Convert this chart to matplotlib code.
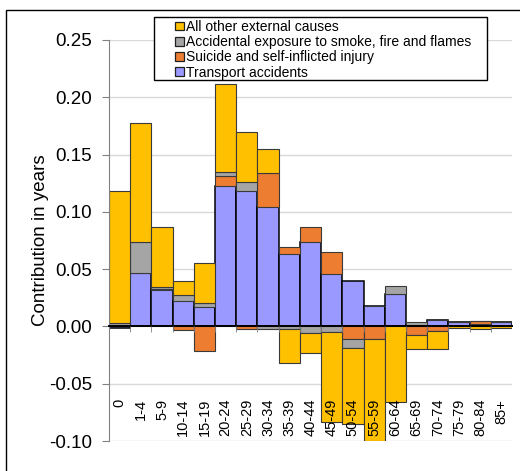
import numpy as np
import matplotlib
matplotlib.use("Agg")
import matplotlib.pyplot as plt
from matplotlib.patches import Rectangle, Patch
from matplotlib.ticker import MultipleLocator

plt.rcParams['font.family'] = ['Liberation Sans', 'DejaVu Sans']

# ---- data ----
ages = ['0', '1-4', '5-9', '10-14', '15-19', '20-24', '25-29', '30-34', '35-39',
        '40-44', '45-49', '50-54', '55-59', '60-64', '65-69', '70-74', '75-79',
        '80-84', '85+']
transport = [-0.001, 0.047, 0.032, 0.022, 0.0166, 0.1225, 0.118, 0.1043, 0.0636,
             0.074, 0.046, 0.0395, 0.0177, 0.0287, 0.0015, 0.006, 0.004, 0.002, 0.0035]
suicide = [0.0, 0.0, 0.001, -0.003, -0.0215, 0.009, -0.002, 0.0297, 0.0058,
           0.0128, 0.0193, -0.0107, -0.0107, 0.0, -0.0078, -0.004, 0.0, 0.0027, 0.0]
smoke = [0.003, 0.0265, 0.0018, 0.005, 0.004, 0.0035, 0.0077, -0.002, -0.002,
         -0.006, -0.005, -0.0083, 0.0, 0.0063, 0.0025, 0.0, 0.0, 0.0, 0.0]
other = [0.115, 0.104, 0.0524, 0.013, 0.0344, 0.0767, 0.0439, 0.0205, -0.0295,
         -0.017, -0.078, -0.0663, -0.0892, -0.0656, -0.0122, -0.016, -0.0015,
         -0.0022, -0.001]

series = [
    ("Transport accidents", transport, "#9999FF", "black", 1.1),
    ("Suicide and self-inflicted injury", suicide, "#ED7D31", "#3a3a3a", 0.8),
    ("Accidental exposure to smoke, fire and flames", smoke, "#A5A5A5", "#3a3a3a", 0.8),
    ("All other external causes", other, "#FFC000", "#3a3a3a", 0.8),
]

# ---- figure ----
fig = plt.figure(figsize=(5.2, 4.71), dpi=100)
ax = fig.add_axes([109 / 520, 1 - 441 / 471, 403 / 520, 401 / 471])

x = np.arange(len(ages))
pos_bottom = np.zeros(len(ages))
neg_bottom = np.zeros(len(ages))
for name, vals, col, ec, lw in series:
    v = np.array(vals)
    bottom = np.where(v >= 0, pos_bottom, neg_bottom)
    ax.bar(x, v, width=1.0, bottom=bottom, color=col, edgecolor=ec,
           linewidth=lw, zorder=2)
    pos_bottom += np.where(v > 0, v, 0)
    neg_bottom += np.where(v < 0, v, 0)

ax.set_xlim(-0.5, len(ages) - 0.5)
ax.set_ylim(-0.10, 0.25)
ax.yaxis.set_major_locator(MultipleLocator(0.05))
ax.yaxis.set_major_formatter(matplotlib.ticker.FormatStrFormatter('%.2f'))
ax.grid(axis='y', color='#d9d9d9', linewidth=1.0, zorder=0)
ax.set_axisbelow(True)
ax.xaxis.set_zorder(4)  # category labels sit on top of the bars

for s in ['top', 'right']:
    ax.spines[s].set_visible(False)
ax.spines['left'].set_color('#808080')
ax.spines['bottom'].set_position(('data', 0))
ax.spines['bottom'].set_color('black')
ax.spines['bottom'].set_linewidth(1.4)
ax.spines['bottom'].set_zorder(3)

ax.tick_params(axis='y', direction='out', length=5, color='#808080',
               labelsize=13.5, pad=7)
ax.set_xticks(x)
ax.set_xticklabels(ages, rotation=90, fontsize=10.5)
ax.tick_params(axis='x', which='major', length=0, pad=52)
ax.set_xticks(x[:-1] + 0.5, minor=True)
ax.tick_params(axis='x', which='minor', direction='out', length=4, color='#808080')
for lab in ax.get_xticklabels():
    lab.set_verticalalignment('top')

ax.set_ylabel("Contribution in years", fontsize=13.5, labelpad=0)

# ---- legend with an outer box ----
handles = [Patch(facecolor=col, edgecolor='#202020', linewidth=0.9, label=name)
           for name, vals, col, ec, lw in series[::-1]]
fig.patches.append(Rectangle((154 / 520, 1 - 80 / 471), 333 / 520, 63 / 471,
                             transform=fig.transFigure, facecolor='white',
                             edgecolor='black', linewidth=1.0, zorder=5))
leg = fig.legend(handles=handles, loc='upper left',
                 bbox_to_anchor=(174 / 520, 1 - 18.5 / 471), frameon=False,
                 fontsize=10, handlelength=0.6, handleheight=0.6,
                 handletextpad=0.2, labelspacing=0.09, borderpad=0.1,
                 borderaxespad=0)
leg.set_zorder(6)

# chart area border
fig.patches.append(Rectangle((6 / 520, -0.1), 1.2, 1 - 10 / 471 + 0.1,
                             transform=fig.transFigure, facecolor='none',
                             edgecolor='black', linewidth=1.0, zorder=7))

fig.savefig("out.png", dpi=100)
